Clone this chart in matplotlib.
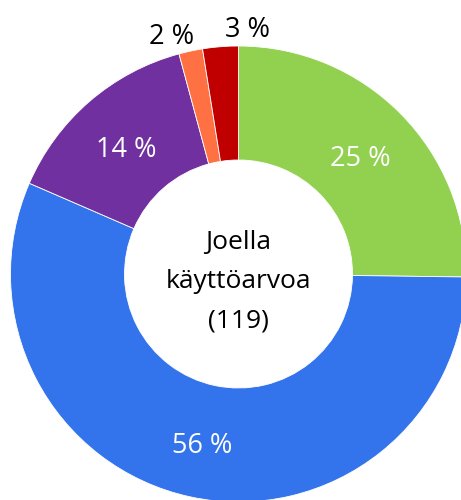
import matplotlib
matplotlib.use("Agg")
import matplotlib.pyplot as plt
import numpy as np

# vastausten määrät (yhteensä 119), järjestys myötäpäivään klo 12:sta
categories = ["Vihreä", "Sininen", "Violetti", "Oranssi", "Punainen"]
counts = [30, 67, 17, 2, 3]
colors = ["#92D050", "#3373EB", "#7030A0", "#FF7043", "#C00000"]
center_title = "Joella\nkäyttöarvoa\n(119)"

plt.rcParams["font.family"] = ["Open Sans", "DejaVu Sans"]

fig = plt.figure(figsize=(4.61, 5.0), dpi=100)
ax = fig.add_axes([0, 0, 1, 1])

R = 228
ring = 114
cx, cy = 238.5, 226

wedges, _ = ax.pie(counts, colors=colors, radius=R, center=(cx, cy),
                   startangle=90, counterclock=False,
                   wedgeprops=dict(width=ring, edgecolor="white", linewidth=0.6))

total = sum(counts)
pcts = [round(100 * c / total) for c in counts]

# pienten osuuksien tekstit siirretään vähän sivuun ettei ne mene päällekkäin
small_dx = {3: -16, 4: 28}

for i, w in enumerate(wedges):
    ang = np.deg2rad((w.theta1 + w.theta2) / 2)
    label = f"{pcts[i]} %"
    if pcts[i] >= 10:
        r = R - ring / 2
        ax.text(cx + r * np.cos(ang), cy + r * np.sin(ang) - 5, label,
                ha="center", va="center", color="white", fontsize=19.5)
    else:
        r = R + 17
        dy = -3 if i == 3 else 0
        ax.text(cx + r * np.cos(ang) + small_dx.get(i, 0), cy + r * np.sin(ang) + dy, label,
                ha="center", va="center", color="black", fontsize=19.5)

ax.text(cx, cy - 8, center_title, ha="center", va="center", fontsize=19,
        linespacing=1.75, color="black")

ax.set_xlim(0, 461)
ax.set_ylim(0, 500)
ax.set_aspect("equal")
ax.axis("off")

fig.savefig("out.png", dpi=100)
